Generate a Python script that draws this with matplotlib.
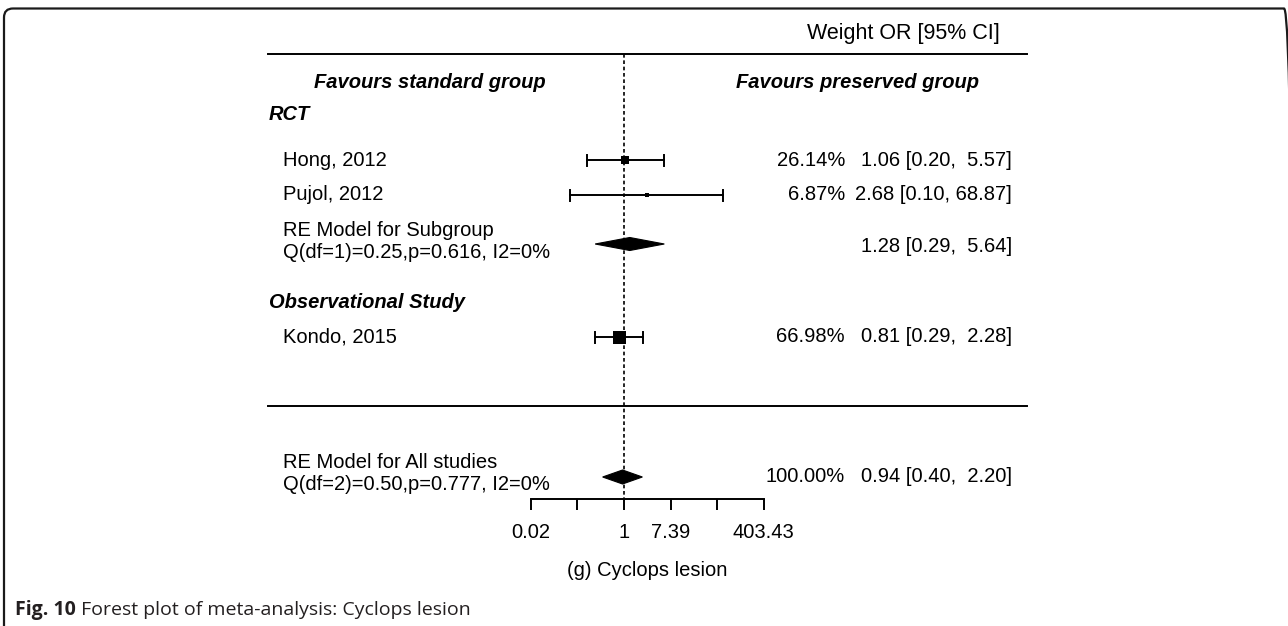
import numpy as np
import matplotlib
matplotlib.use("Agg")
import matplotlib.pyplot as plt
from matplotlib.patches import Polygon, FancyBboxPatch

# ---------------- data ----------------
studies = ["Hong, 2012", "Pujol, 2012", "Kondo, 2015"]
or_est = [1.06, 2.68, 0.81]
ci_low = [0.20, 0.10, 0.29]
ci_high = [5.57, 68.87, 2.28]
weights = [26.14, 6.87, 66.98]

sub_label = ["RE Model for Subgroup", "Q(df=1)=0.25,p=0.616, I2=0%"]
sub_est = [1.28]
sub_low = [0.29]
sub_high = [5.64]

all_label = ["RE Model for All studies", "Q(df=2)=0.50,p=0.777, I2=0%"]
all_est = [0.94]
all_low = [0.40]
all_high = [2.20]
all_weight = [100.00]

group_names = ["RCT", "Observational Study"]
favour_labels = ["Favours standard group", "Favours preserved group"]
header = "Weight OR [95% CI]"
tick_vals = [-4, -2, 0, 2, 4, 6]
tick_labels = ["0.02", "", "1", "7.39", "", "403.43"]
xlabel = "(g) Cyclops lesion"
caption_bold = "Fig. 10"
caption_rest = " Forest plot of meta-analysis: Cyclops lesion"

# ---------------- layout ----------------
W, H, DPI = 1288, 626, 100
X0, S = 624.0, 23.3          # pixel of log(OR)=0, pixels per log unit
FONT = "Liberation Sans"
FS = 14.5

def px2x(px):
    return (px - X0) / S

fig = plt.figure(figsize=(W / DPI, H / DPI), dpi=DPI)
ax = fig.add_axes([0, 0, 1, 1])
ax.set_xlim(px2x(0), px2x(W))
ax.set_ylim(H, 0)
ax.axis("off")

# row positions (pixels from top)
y_header, y_top, y_fav, y_rct = 33, 54, 83, 115
y_studies = [160, 195, 337]
y_sub_txt = [230, 253]
y_sub = 244
y_obs = 302
y_sep = 406
y_all_txt = [463, 485]
y_all = 477
y_axis = 499

lw = 1.4
txt = dict(fontfamily=FONT, fontsize=FS, color="black")

ax.text(px2x(1000), y_header, header, ha="right", va="center",
        fontfamily=FONT, fontsize=15.5, color="black")
ax.plot([px2x(268), px2x(1027)], [y_top, y_top], color="black", lw=lw)
ax.plot([px2x(268), px2x(1027)], [y_sep, y_sep], color="black", lw=lw)
ax.plot([0, 0], [y_top, y_axis], color="black", lw=1.2, ls=(0, (2.2, 1.6)))

ax.text(px2x(430), y_fav, favour_labels[0], ha="center", va="center",
        fontweight="bold", fontstyle="italic", **txt)
ax.text(px2x(857), y_fav, favour_labels[1], ha="center", va="center",
        fontweight="bold", fontstyle="italic", **txt)
ax.text(px2x(269), y_rct, group_names[0], ha="left", va="center",
        fontweight="bold", fontstyle="italic", **txt)
ax.text(px2x(269), y_obs, group_names[1], ha="left", va="center",
        fontweight="bold", fontstyle="italic", **txt)

# study rows
w = np.array(weights)
psize = (w - w.min()) / (w.max() - w.min()) + 0.5
sq_px = 13.0 * psize / 1.5
cap = 5.5
for i, name in enumerate(studies):
    y = y_studies[i]
    lo, hi, est = np.log(ci_low[i]), np.log(ci_high[i]), np.log(or_est[i])
    ax.plot([lo, hi], [y, y], color="black", lw=lw)
    ax.plot([lo, lo], [y - cap, y + cap], color="black", lw=lw)
    ax.plot([hi, hi], [y - cap, y + cap], color="black", lw=lw)
    ax.plot([est], [y], marker="s", color="black", ms=sq_px[i] * 72 / DPI, mew=0)
    ax.text(px2x(283), y, name, ha="left", va="center", **txt)
    ax.text(px2x(845), y, f"{weights[i]:.2f}%", ha="right", va="center", **txt)
    ax.text(px2x(1012), y, f"{or_est[i]:.2f} [{ci_low[i]:.2f}, {ci_high[i]:5.2f}]",
            ha="right", va="center", **txt)

def diamond(est, lo, hi, y, h):
    poly = Polygon([[np.log(lo), y], [np.log(est), y - h], [np.log(hi), y], [np.log(est), y + h]],
                   closed=True, facecolor="black", edgecolor="black", lw=0.8)
    ax.add_patch(poly)

diamond(sub_est[0], sub_low[0], sub_high[0], y_sub, 6.5)
for t, yy in zip(sub_label, y_sub_txt):
    ax.text(px2x(283), yy, t, ha="left", va="center", **txt)
ax.text(px2x(1012), y_sub + 3, f"{sub_est[0]:.2f} [{sub_low[0]:.2f}, {sub_high[0]:5.2f}]",
        ha="right", va="center", **txt)

diamond(all_est[0], all_low[0], all_high[0], y_all, 7)
for t, yy in zip(all_label, y_all_txt):
    ax.text(px2x(283), yy, t, ha="left", va="center", **txt)
ax.text(px2x(845), y_all, f"{all_weight[0]:.2f}%", ha="right", va="center", **txt)
ax.text(px2x(1012), y_all, f"{all_est[0]:.2f} [{all_low[0]:.2f}, {all_high[0]:5.2f}]",
        ha="right", va="center", **txt)

# x axis
axx = fig.add_axes([0, 1 - y_axis / H, 1, 0.0001])
axx.set_xlim(px2x(0), px2x(W))
axx.set_facecolor("none")
for s in ["top", "left", "right"]:
    axx.spines[s].set_visible(False)
axx.spines["bottom"].set_bounds(tick_vals[0], tick_vals[-1])
axx.spines["bottom"].set_linewidth(lw)
axx.set_yticks([])
axx.set_xticks(tick_vals)
axx.set_xticklabels(tick_labels, fontfamily=FONT, fontsize=FS)
axx.tick_params(axis="x", direction="out", length=8, width=lw, pad=9)
ax.text(np.mean([tick_vals[0], tick_vals[-1]]), 570, xlabel, ha="center", va="center", **txt)

# frame
frame = FancyBboxPatch((4 / DPI, -0.5), (1293 - 4) / DPI, (H - 8.5) / DPI + 0.5,
                       boxstyle="round,pad=0,rounding_size=0.09",
                       transform=fig.dpi_scale_trans, facecolor="none",
                       edgecolor="#1a1a1a", lw=1.6, clip_on=False)
fig.add_artist(frame)

# caption
cb = fig.text(15 / W, 1 - 610 / H, caption_bold, ha="left", va="center",
              fontfamily="Open Sans", fontweight="bold", fontsize=14, color="#231f20")
fig.canvas.draw()
bb = cb.get_window_extent()
fig.text(bb.x1 / W, 1 - 610 / H, caption_rest, ha="left", va="center",
         fontfamily="Open Sans", fontsize=14, color="#231f20")

fig.savefig("out.png", dpi=DPI)
